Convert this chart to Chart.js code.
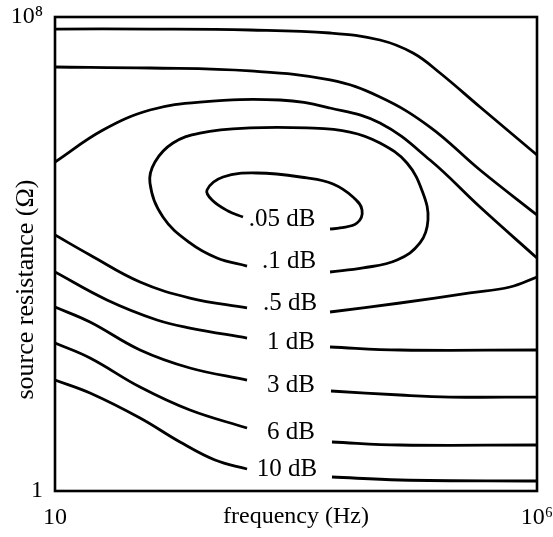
<!DOCTYPE html>
<html>
<head>
<meta charset="utf-8">
<script src="https://cdn.jsdelivr.net/npm/chart.js@4.4.1/dist/chart.umd.min.js"></script>
<style>
  html, body { margin:0; padding:0; background:#fff; }
  #wrap { width:553px; height:537px; }
</style>
</head>
<body>
<div id="wrap"><canvas id="chart"></canvas></div>
<script>
// contour points, as [log10 frequency (Hz), log10 source resistance (Ω)]
const upperA = [[1.000,7.797],[1.985,7.797],[3.023,7.781],[3.853,7.730],[4.371,7.612],[4.714,7.392],[4.994,7.055],[5.409,6.481],[6.000,5.671]];
const upperB = [[1.000,7.156],[1.985,7.139],[3.023,7.089],[3.853,6.937],[4.371,6.650],[4.890,6.143],[5.409,5.418],[6.000,4.658]];
const upperC = [[1.000,5.553],[1.498,6.093],[1.985,6.430],[2.504,6.565],[3.334,6.599],[3.853,6.464],[4.371,6.211],[4.890,5.586],[5.409,4.793],[6.000,3.932]];
const loop01 = [[2.992,3.797],[2.680,3.932],[2.400,4.186],[2.120,4.624],[1.985,5.198],[2.037,5.553],[2.224,5.873],[2.504,6.042],[3.023,6.127],[3.614,6.127],[4.060,6.059],[4.371,5.873],[4.651,5.536],[4.817,5.030],[4.869,4.574],[4.786,4.186],[4.548,3.899],[4.195,3.764],[3.853,3.696]];
const loop005 = [[2.950,4.624],[2.795,4.726],[2.629,4.911],[2.577,5.080],[2.743,5.300],[3.095,5.367],[3.614,5.283],[3.884,5.181],[4.091,4.962],[4.185,4.743],[4.133,4.523],[3.956,4.439],[3.853,4.422]];
const low05L = [[1.000,4.321],[1.363,3.983],[1.882,3.527],[2.400,3.257],[2.992,3.089]];
const low05R = [[3.853,3.021],[4.579,3.173],[5.305,3.342],[5.720,3.443],[6.000,3.612]];
const low1L = [[1.000,3.696],[1.539,3.224],[2.058,2.886],[2.400,2.751],[2.992,2.582]];
const low1R = [[3.853,2.430],[4.579,2.380],[6.000,2.380]];
const low3L = [[1.000,3.105],[1.363,2.852],[1.882,2.380],[2.400,2.076],[2.992,1.873]];
const low3R = [[3.863,1.688],[4.579,1.620],[5.098,1.586],[6.000,1.586]];
const low6L = [[1.000,2.498],[1.363,2.245],[1.882,1.755],[2.400,1.367],[2.992,1.063]];
const low6R = [[3.873,0.827],[4.579,0.776],[6.000,0.776]];
const low10L = [[1.000,1.873],[1.363,1.654],[1.882,1.232],[2.297,0.827],[2.660,0.523],[2.992,0.371]];
const low10R = [[3.873,0.236],[4.579,0.186],[6.000,0.169]];

const curves = [upperA, upperB, upperC, loop01, loop005, low05L, low05R, low1L, low1R, low3L, low3R, low6L, low6R, low10L, low10R];

// contour labels and where they sit (same log10 units)
const labelText = ['.05 dB', '.1 dB', '.5 dB', '1 dB', '3 dB', '6 dB', '10 dB'];
const labelAt = [[3.355,4.591],[3.427,3.882],[3.438,3.173],[3.448,2.515],[3.448,1.789],[3.448,0.996],[3.407,0.371]];

const xTickValues = [10, 1e6];
const xTickLabels = ['10', '10⁶'];
const yTickValues = [1, 1e8];
const yTickLabels = ['1', '10⁸'];
const yTitle = 'source resistance (Ω)';

const SERIF = '"Liberation Serif", "DejaVu Serif", serif';
const font = { family: SERIF, size: 24 };

const frame = {
  id: 'frame',
  afterDatasetsDraw(chart) {
    const { ctx, chartArea: a } = chart;
    ctx.save();
    ctx.strokeStyle = '#000';
    ctx.lineWidth = 2.6;
    ctx.strokeRect(a.left, a.top, a.right - a.left, a.bottom - a.top);
    ctx.restore();
  }
};

// contour labels + the rotated y title (it sits low on the scan, not centred)
const texts = {
  id: 'texts',
  afterDatasetsDraw(chart) {
    const { ctx, chartArea: a, scales: { x, y } } = chart;
    ctx.save();
    ctx.font = `25px ${SERIF}`;
    ctx.fillStyle = '#000';
    ctx.textAlign = 'center';
    ctx.textBaseline = 'middle';
    labelText.forEach((t, i) => {
      const [lf, lr] = labelAt[i];
      ctx.fillText(t, x.getPixelForValue(10 ** lf), y.getPixelForValue(10 ** lr));
    });
    ctx.font = `26px ${SERIF}`;
    ctx.translate(a.left - 29, a.top + (a.bottom - a.top) * 0.575);
    ctx.rotate(-Math.PI / 2);
    ctx.fillText(yTitle, 0, 0);
    ctx.restore();
  }
};

new Chart(document.getElementById('chart').getContext('2d'), {
  type: 'scatter',
  data: {
    datasets: curves.map(c => ({
      data: c.map(([f, r]) => ({ x: 10 ** f, y: 10 ** r })),
      showLine: true,
      borderColor: '#000',
      borderWidth: 2.8,
      pointRadius: 0,
      tension: 0.4,
      fill: false
    }))
  },
  options: {
    responsive: true,
    maintainAspectRatio: false,
    animation: false,
    layout: { padding: { top: 17, right: 16, left: 0, bottom: 0 } },
    plugins: { legend: { display: false }, tooltip: { enabled: false } },
    scales: {
      x: {
        type: 'logarithmic', min: 10, max: 1e6,
        grid: { display: false, drawTicks: false }, border: { display: false },
        afterBuildTicks: s => { s.ticks = xTickValues.map(v => ({ value: v })); },
        afterFit: s => { s.height = 46; s.paddingLeft = 0; s.paddingRight = 0; },
        ticks: {
          font, color: '#000', padding: 12, maxRotation: 0, autoSkip: false,
          callback: v => xTickLabels[xTickValues.indexOf(v)] ?? ''
        },
        title: { display: true, text: 'frequency (Hz)', font, color: '#000', padding: { top: 0, bottom: 6 } }
      },
      y: {
        type: 'logarithmic', min: 1, max: 1e8,
        grid: { display: false, drawTicks: false }, border: { display: false },
        afterBuildTicks: s => { s.ticks = yTickValues.map(v => ({ value: v })); },
        afterFit: s => { s.width = 55; s.paddingTop = 0; s.paddingBottom = 0; },
        ticks: {
          font, color: '#000', padding: 12, autoSkip: false,
          callback: v => yTickLabels[yTickValues.indexOf(v)] ?? ''
        }
      }
    }
  },
  plugins: [frame, texts]
});
</script>
</body>
</html>
